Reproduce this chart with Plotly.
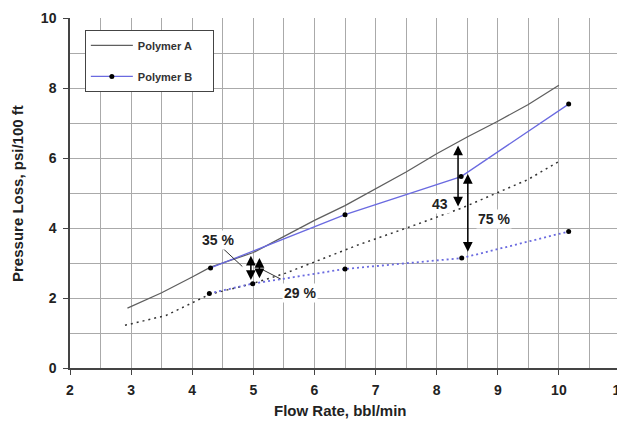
import plotly.graph_objects as go

# Polymer A (solid gray)
a_x = [2.94, 3.5, 4.0, 4.3, 5.0, 5.5, 6.0, 6.5, 7.0, 7.5, 8.0, 8.5, 9.0, 9.5, 10.0]
a_y = [1.71, 2.15, 2.6, 2.88, 3.3, 3.76, 4.22, 4.64, 5.12, 5.6, 6.12, 6.6, 7.05, 7.53, 8.08]
# Polymer A second condition (dotted black)
a2_x = [2.9, 3.57, 4.28, 5.0, 5.53, 6.1, 6.72, 7.59, 8.41, 9.49, 10.0]
a2_y = [1.22, 1.5, 2.1, 2.42, 2.71, 3.1, 3.52, 4.05, 4.57, 5.38, 5.9]
# Polymer B (solid blue with markers)
b_x = [4.3, 6.5, 8.4, 10.16]
b_y = [2.86, 4.38, 5.47, 7.54]
# Polymer B second condition (dotted blue with markers)
b2_x = [4.28, 4.99, 6.5, 8.41, 10.16]
b2_y = [2.13, 2.41, 2.83, 3.14, 3.9]

x_ticks = [2, 3, 4, 5, 6, 7, 8, 9, 10, 11]
y_ticks = [0, 2, 4, 6, 8, 10]

FONT = "Liberation Sans, Arial, sans-serif"
GRAY = "#5f5f5f"
BLUE = "#6a6ae0"

fig = go.Figure()
fig.add_trace(go.Scatter(x=a_x, y=a_y, mode="lines", name="Polymer A     ",
                         legendgroup="a",
                         line=dict(color=GRAY, width=1.3)))
fig.add_trace(go.Scatter(x=b_x, y=b_y, mode="lines+markers", name="Polymer B     ",
                         legendgroup="b",
                         line=dict(color=BLUE, width=1.3),
                         marker=dict(color="black", size=5)))
fig.add_trace(go.Scatter(x=a2_x, y=a2_y, mode="lines", showlegend=False,
                         line=dict(color="#333333", width=1.5, dash="2px,4px")))
fig.add_trace(go.Scatter(x=b2_x, y=b2_y, mode="lines+markers", showlegend=False,
                         line=dict(color=BLUE, width=1.8, dash="2px,3px"),
                         marker=dict(color="black", size=5)))

def darrow(x, y0, y1):
    return dict(x=x, y=y1, ax=x, ay=y0, xref="x", yref="y", axref="x", ayref="y",
                text="", showarrow=True, arrowhead=2, startarrowhead=2,
                arrowside="end+start", arrowsize=1.3, startarrowsize=1.3,
                arrowwidth=1.5, arrowcolor="black")

anns = [
    darrow(8.35, 4.57, 6.36),
    darrow(8.51, 3.28, 5.54),
    darrow(4.96, 2.47, 3.21),
    darrow(5.1, 2.52, 3.14),
]
lbl = dict(font=dict(family=FONT, size=14, color="#222"), showarrow=False,
           xref="x", yref="y", bgcolor="white")
anns += [
    dict(text="<b>43</b>", x=8.05, y=4.69, **lbl),
    dict(text="<b>75 %</b>", x=8.93, y=4.26, **lbl),
    dict(text="<b>35 %</b>", x=4.42, y=3.67, **lbl),
    dict(text="<b>29 %</b>", x=5.76, y=2.13, **lbl),
    # axis titles
    dict(text="<b>Flow Rate, bbl/min</b>", xref="paper", yref="paper", x=0.491, y=-0.122,
         xanchor="center", yanchor="middle",
         showarrow=False, font=dict(family=FONT, size=15, color="#222")),
    dict(text="<b>Pressure Loss, psi/100 ft</b>", xref="paper", yref="paper", x=-0.0964, y=0.5,
         xanchor="center", yanchor="middle",
         textangle=-90, showarrow=False, font=dict(family=FONT, size=15, color="#222")),
]

shapes = [
    dict(type="line", xref="x", yref="y", x0=4.5, y0=3.42, x1=4.82, y1=2.9,
         line=dict(color="#333", width=1)),
    dict(type="line", xref="x", yref="y", x0=5.45, y0=2.54, x1=5.15, y1=2.81,
         line=dict(color="#333", width=1)),
]

fig.update_layout(
    width=617, height=415,
    margin=dict(l=62, r=5, t=10, b=55),
    paper_bgcolor="white", plot_bgcolor="white",
    font=dict(family=FONT, size=14, color="#222"),
    annotations=anns, shapes=shapes,
    legend=dict(x=0.027, y=0.966, xanchor="left", yanchor="top",
                bgcolor="white", bordercolor="#444", borderwidth=1,
                font=dict(family=FONT, size=11, color="#333", weight="bold"),
                traceorder="grouped", tracegroupgap=12, itemwidth=42),
)
fig.update_xaxes(range=[2, 11.0001], tickvals=x_ticks, ticktext=[f"<b>{v}</b>" for v in x_ticks],
                 showgrid=True, gridcolor="#aaaaaa", gridwidth=1,
                 minor=dict(dtick=0.5, showgrid=True, gridcolor="#aaaaaa"),
                 showline=True, linecolor="#444", linewidth=1.5,
                 ticks="outside", ticklen=5, tickcolor="#444", zeroline=False,
                 ticklabelstandoff=3, ticklabeloverflow="allow",
                 automargin=False)
fig.update_yaxes(range=[0, 10], tickvals=y_ticks, ticktext=[f"<b>{v}</b>" for v in y_ticks],
                 showgrid=True, gridcolor="#aaaaaa", gridwidth=1,
                 minor=dict(dtick=1, showgrid=True, gridcolor="#aaaaaa"),
                 showline=True, linecolor="#444", linewidth=1.5,
                 ticks="outside", ticklen=5, tickcolor="#444", zeroline=False,
                 ticklabelstandoff=4,
                 automargin=False)

fig.write_html("out.html")
